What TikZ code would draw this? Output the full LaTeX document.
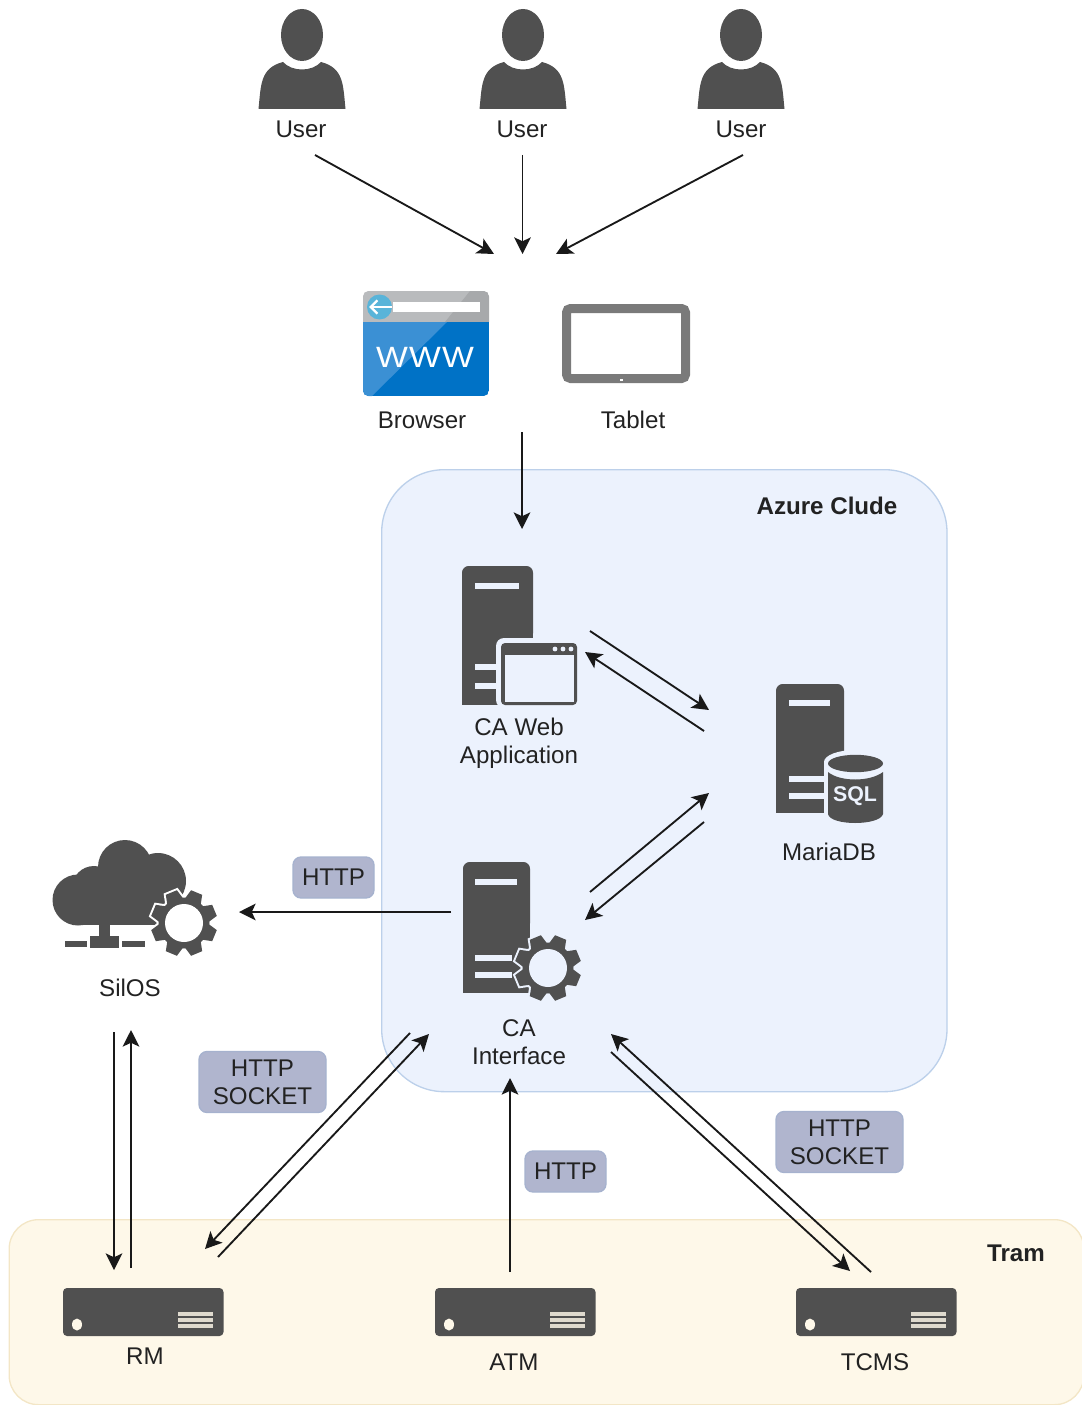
\documentclass[tikz,border=0pt]{standalone}
\usepackage{fontspec}
\setmainfont{Liberation Sans}
\usetikzlibrary{arrows.meta}
\definecolor{dk}{HTML}{505050}
\definecolor{azurefill}{HTML}{ECF2FD}
\definecolor{azureline}{HTML}{BCD0EA}
\definecolor{tramfill}{HTML}{FEF8E9}
\definecolor{tramline}{HTML}{F3E6C6}
\definecolor{pillfill}{HTML}{B0B5CE}
\definecolor{pillline}{HTML}{A6B2CE}
\definecolor{txt}{HTML}{222222}
\definecolor{grayA}{HTML}{B9BBBD}
\definecolor{grayB}{HTML}{A7A9AB}
\definecolor{blueA}{HTML}{0072C6}
\definecolor{blueB}{HTML}{3B90D4}
\definecolor{blueC}{HTML}{59B4D9}
\definecolor{tabletgray}{HTML}{7A7A7A}
\tikzset{
  lbl/.style={text=txt,font=\fontsize{18.1pt}{21pt}\selectfont,align=center,inner sep=0pt},
  bold lbl/.style={lbl,font=\fontsize{18.1pt}{21pt}\selectfont\bfseries},
  pill/.style={draw=pillline,line width=1pt,fill=pillfill,rounded corners=6pt,text=txt,
    font=\fontsize{18.1pt}{21pt}\selectfont,align=center,inner sep=0pt,anchor=center},
  conn/.style={line width=1.4pt,draw=black!90,-{Stealth[length=12.5pt,width=12.5pt,inset=3pt]}}
}
\newcommand\geararm[2]{%
  \begin{scope}[shift={(#1)}]
    \foreach \a in {22.5,67.5,...,337.5}{
      \filldraw[#2,line width=3pt,rotate=\a] (23,-8.5) -- (33,-6) -- (33,6) -- (23,8.5) -- cycle;}
    \filldraw[#2,line width=3pt] (0,0) circle (25.5);
    \foreach \a in {22.5,67.5,...,337.5}{
      \fill[dk,rotate=\a] (23,-8.5) -- (33,-6) -- (33,6) -- (23,8.5) -- cycle;}
    \fill[dk] (0,0) circle (25.5);
    \fill[#2] (0,0) circle (19);
  \end{scope}}
\newcommand\usericon[1]{%
  \begin{scope}[shift={(#1,0)}]
    \fill[dk] (0,35) ellipse [x radius=21,y radius=26];
    \fill[dk] (-43.5,109) .. controls (-41,85) and (-42,68) .. (-19,62)
      .. controls (-10,72) and (10,72) .. (19,62)
      .. controls (42,68) and (41,85) .. (43.5,109) -- cycle;
  \end{scope}}
\newcommand\rackicon[2]{%
  \begin{scope}[shift={(#1,#2)}]
    \fill[dk,rounded corners=3pt] (0,0) rectangle (160.5,48);
    \fill[tramfill] (14,36.5) ellipse [x radius=5,y radius=6];
    \fill[tramfill!82!dk] (115,24) rectangle (150,27.8);
    \fill[tramfill!82!dk] (115,30.2) rectangle (150,34);
    \fill[tramfill!82!dk] (115,36.4) rectangle (150,40.2);
  \end{scope}}
\begin{document}
\begin{tikzpicture}[x=0.75pt,y=-0.75pt]
\useasboundingbox (0,0) rectangle (1081,1405);
% containers
\node[draw=azureline,fill=azurefill,line width=1pt,rounded corners=47pt,minimum width=424pt,minimum height=466.5pt,inner sep=0pt,anchor=north west] (azure) at (381,469) {};
\node[draw=tramline,fill=tramfill,line width=1pt,rounded corners=22pt,minimum width=806pt,minimum height=138.75pt,inner sep=0pt,anchor=north west] (tram) at (8.5,1219) {};
\node[bold lbl] (azurelbl) at (827,506) {Azure Clude};
\node[bold lbl] (tramlbl) at (1016,1253) {Tram};
% users
\usericon{302}\usericon{523}\usericon{741}
\node[lbl] (u1) at (301,129.5) {User};
\node[lbl] (u2) at (522,129.5) {User};
\node[lbl] (u3) at (741,129.5) {User};
% browser
\begin{scope}
  \clip[rounded corners=4pt] (363,291) rectangle (489,396);
  \fill[grayA] (363,291) rectangle (489,322);
  \fill[grayB] (470,291) -- (489,291) -- (489,322) -- (445,322) -- cycle;
  \fill[blueA] (363,322) rectangle (489,396);
  \fill[blueB] (363,322) -- (447,322) -- (372,396) -- (363,396) -- cycle;
\end{scope}
\fill[white] (393,302) rectangle (480,312);
\fill[blueC] (379.5,307) circle (12.5);
\draw[white,line width=1.8pt,-{Straight Barb[length=5pt,width=10pt]}] (392,307) -- (369,307);
\node[text=white,font={\fontsize{22pt}{22pt}\selectfont\addfontfeature{FakeStretch=1.15,LetterSpace=4}},inner sep=0pt] (www) at (425,357.5) {WWW};
\node[lbl] (browser) at (422,420) {Browser};
% tablet
\draw[tabletgray,fill=white,line width=6.75pt,rounded corners=3pt] (566.5,308.5) rectangle (685.5,378.5);
\fill[white] (620,379) rectangle (623,380.5);
\node[lbl] (tablet) at (633,420) {Tablet};
% CA web
\fill[dk,rounded corners=5pt] (462,566) rectangle (533,640);
\fill[dk] (462,620) rectangle (533,705);
\fill[azurefill] (475,583) rectangle (519,589);
\fill[azurefill] (475,664) rectangle (497,670);
\fill[azurefill] (475,683) rectangle (497,689);
\fill[azurefill,rounded corners=6pt] (496,638) rectangle (581,708);
\fill[dk,rounded corners=3pt] (501,643) rectangle (577,705);
\fill[azurefill] (505,655) rectangle (574,702);
\foreach \xx in {555,563,571}{\fill[azurefill] (\xx,649) circle (2.4);}
\node[lbl] (caweb) at (519,743) {CA Web\\Application};
% MariaDB
\fill[dk,rounded corners=5pt] (776,684) rectangle (844,760);
\fill[dk] (776,740) rectangle (844,813);
\fill[azurefill] (789,700) rectangle (830,706);
\fill[azurefill] (789,776) rectangle (826,782);
\fill[azurefill] (789,793) rectangle (826,799);
\fill[azurefill] (824,762) rectangle (888,829);
\fill[azurefill] (855,762) ellipse [x radius=31,y radius=12];
\fill[dk] (828,772) -- (828,814) .. controls (830,826) and (880,826) .. (883,814) -- (883,772)
  .. controls (870,782) and (840,782) .. (828,772) -- cycle;
\fill[dk] (855.5,763.5) ellipse [x radius=27.5,y radius=8.7];
\node[text=azurefill,font=\fontsize{16pt}{16pt}\selectfont\bfseries,inner sep=0pt] (sql) at (855,796) {SQL};
\node[lbl] (maria) at (829,852) {MariaDB};
% CA interface
\fill[dk,rounded corners=5pt] (463,862) rectangle (530,930);
\fill[dk] (463,910) rectangle (530,993);
\fill[azurefill] (475,879) rectangle (517,885);
\fill[azurefill] (475,955) rectangle (512,961);
\fill[azurefill] (475,972) rectangle (512,978);
\geararm{548,968}{azurefill}
\node[lbl] (caint) at (519,1042) {CA\\Interface};
% SilOS
\fill[dk] (78,900) circle (25.5);
\fill[dk] (94,888) circle (22);
\fill[dk] (125,867) circle (27);
\fill[dk] (158,881) circle (28);
\fill[dk] (78,875) rectangle (175,925);
\fill[dk] (99,920) rectangle (110,938);
\fill[dk] (90,936) rectangle (119,948);
\fill[dk] (65,941) rectangle (87,947);
\fill[dk] (122,941) rectangle (145,947);
\geararm{184,923}{white}
\node[lbl] (silos) at (130,988) {SilOS};
% racks
\rackicon{63}{1288}\rackicon{435}{1288}\rackicon{796}{1288}
\node[lbl] (rm) at (145,1356) {RM};
\node[lbl] (atm) at (514,1362) {ATM};
\node[lbl] (tcms) at (875,1362) {TCMS};
% pills
\node[pill,minimum width=60.75pt,minimum height=30.75pt] (p1) at (333.5,877.5) {HTTP};
\node[pill,minimum width=95.25pt,minimum height=45.75pt] (p2) at (262.5,1082) {HTTP\\SOCKET};
\node[pill,minimum width=60.75pt,minimum height=30.75pt] (p3) at (565.5,1171.5) {HTTP};
\node[pill,minimum width=95.25pt,minimum height=45.75pt] (p4) at (839.5,1142) {HTTP\\SOCKET};
% connector ends
\coordinate (a1s) at (315,155); \coordinate (a1e) at (494,254);
\coordinate (a2s) at (522.5,155); \coordinate (a2e) at (522.5,254);
\coordinate (a3s) at (743,155); \coordinate (a3e) at (556,254);
\coordinate (a4s) at (522,432); \coordinate (a4e) at (522,529);
\coordinate (b1s) at (590,631); \coordinate (b1e) at (709,710);
\coordinate (b2s) at (704,731); \coordinate (b2e) at (585,652);
\coordinate (b3s) at (590,892); \coordinate (b3e) at (709,793);
\coordinate (b4s) at (704,822); \coordinate (b4e) at (585,920);
\coordinate (c1s) at (451,912); \coordinate (c1e) at (239,912);
\coordinate (d1s) at (114,1032); \coordinate (d1e) at (114,1270);
\coordinate (d2s) at (131,1268); \coordinate (d2e) at (131,1030);
\coordinate (e1s) at (410,1033); \coordinate (e1e) at (205,1249);
\coordinate (e2s) at (218,1257); \coordinate (e2e) at (429,1034);
\coordinate (f1s) at (510,1272); \coordinate (f1e) at (510,1078);
\coordinate (g1s) at (871,1272); \coordinate (g1e) at (611,1034);
\coordinate (g2s) at (611,1052); \coordinate (g2e) at (850,1271);
\foreach \n in {a1,a2,a3,a4,b1,b2,b3,b4,c1,d1,d2,e1,e2,f1,g1,g2}{
  \draw[conn] (\n s) -- (\n e);}
\end{tikzpicture}
\end{document}
